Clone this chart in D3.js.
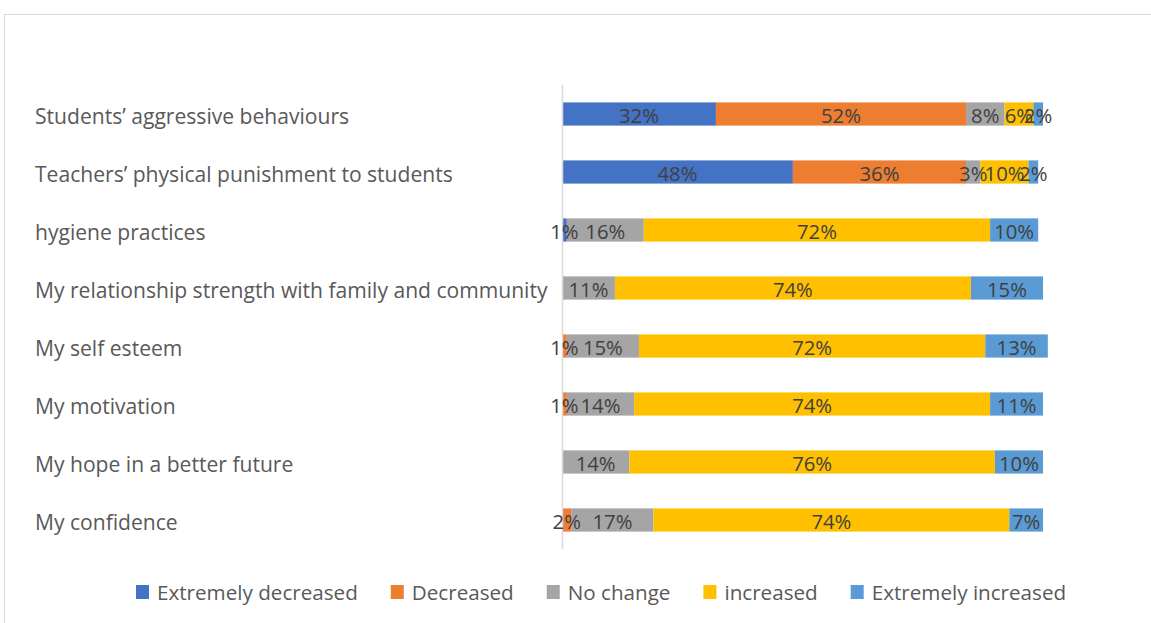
<!DOCTYPE html>
<html>
<head>
<meta charset="utf-8">
<script src="https://cdn.jsdelivr.net/npm/d3@7"></script>
<style>
  html, body { margin: 0; padding: 0; background: #ffffff; }
  svg { display: block; }
  text { font-family: "Open Sans", "Noto Sans", sans-serif; }
</style>
</head>
<body>
<svg id="chart" width="1151" height="623"></svg>
<script>
// Survey items, top to bottom
const categories = [
  "Students\u2019 aggressive behaviours",
  "Teachers\u2019 physical punishment to students",
  "hygiene practices",
  "My relationship strength with family and community",
  "My self esteem",
  "My motivation",
  "My hope in a better future",
  "My confidence"
];

// Response categories (legend order = stacking order)
const seriesNames = ["Extremely decreased", "Decreased", "No change", "increased", "Extremely increased"];
const seriesColors = ["#4472C4", "#ED7D31", "#A5A5A5", "#FFC000", "#5B9BD5"];

// Percentages per response category, one value per survey item
const extremelyDecreased = [32, 48, 1, 0, 0, 0, 0, 0];
const decreased          = [52, 36, 0, 0, 1, 1, 0, 2];
const noChange           = [8, 3, 16, 11, 15, 14, 14, 17];
const increased          = [6, 10, 72, 74, 72, 74, 76, 74];
const extremelyIncreased = [2, 2, 10, 15, 13, 11, 10, 7];

const seriesValues = [extremelyDecreased, decreased, noChange, increased, extremelyIncreased];

const rows = categories.map((c, i) => {
  const r = { category: c };
  seriesNames.forEach((s, j) => { r[s] = seriesValues[j][i]; });
  return r;
});

const svg = d3.select("#chart");
const W = 1151, H = 623;

// chart frame
svg.append("rect")
  .attr("x", 4.5).attr("y", 14.5)
  .attr("width", W + 10).attr("height", H + 10)
  .attr("fill", "none").attr("stroke", "#d9d9d9").attr("stroke-width", 1);

const plot = { left: 562, right: 1043, top: 85, bottom: 549 };

const x = d3.scaleLinear().domain([0, 100]).range([plot.left, plot.right]);
const y = d3.scaleBand().domain(categories).range([plot.top, plot.bottom]).paddingInner(0.6).paddingOuter(0.3);

const stack = d3.stack().keys(seriesNames)(rows);

// fit a font size so that a given string spans a target width
function fitSize(str, target, base) {
  const t = svg.append("text").style("font-size", base + "px").text(str);
  const w = t.node().getComputedTextLength();
  t.remove();
  return base * target / w;
}
const catSize = fitSize(categories[3], 513, 16);
const labelSize = fitSize("32%", 40, 16);
const legendSize = fitSize("Extremely decreased", 201, 16);

// stacked segments
const layers = svg.append("g").selectAll("g")
  .data(stack).join("g")
  .attr("fill", (d, i) => seriesColors[i]);

layers.selectAll("rect")
  .data(d => d)
  .join("rect")
  .attr("x", d => x(d[0]))
  .attr("y", d => y(d.data.category))
  .attr("width", d => x(d[1]) - x(d[0]))
  .attr("height", y.bandwidth());

// vertical category axis
const yAxis = svg.append("g")
  .attr("transform", `translate(${plot.left},0)`)
  .call(d3.axisLeft(y).tickSize(0).tickPadding(0));
yAxis.select(".domain")
  .attr("d", `M0.5,${plot.top}V${plot.bottom}`)
  .attr("stroke", "#d9d9d9").attr("stroke-width", 1.5);
yAxis.selectAll(".tick text")
  .attr("x", 35 - plot.left)
  .attr("text-anchor", "start")
  .attr("dy", "0.45em")
  .attr("fill", "#595959")
  .style("font-family", "\"Open Sans\", sans-serif")
  .style("font-size", catSize + "px");

// value labels
const labels = svg.append("g");
stack.forEach((layer) => {
  labels.selectAll(null)
    .data(layer.filter(d => d[1] - d[0] > 0))
    .join("text")
    .attr("x", d => (x(d[0]) + x(d[1])) / 2)
    .attr("y", d => y(d.data.category) + y.bandwidth() / 2)
    .attr("dy", "0.42em")
    .attr("text-anchor", "middle")
    .attr("fill", "#404040")
    .style("font-size", labelSize + "px")
    .text(d => (d[1] - d[0]) + "%");
});

// legend
const legend = svg.append("g");
let lx = 157;
const ly = 592;
seriesNames.forEach((name, i) => {
  legend.append("rect")
    .attr("x", lx - 21).attr("y", ly - 7)
    .attr("width", 13).attr("height", 14)
    .attr("fill", seriesColors[i]);
  const t = legend.append("text")
    .attr("x", lx).attr("y", ly)
    .attr("dy", "0.38em")
    .attr("fill", "#595959")
    .style("font-size", legendSize + "px")
    .text(name);
  lx += t.node().getComputedTextLength() + 54;
});
</script>
</body>
</html>
